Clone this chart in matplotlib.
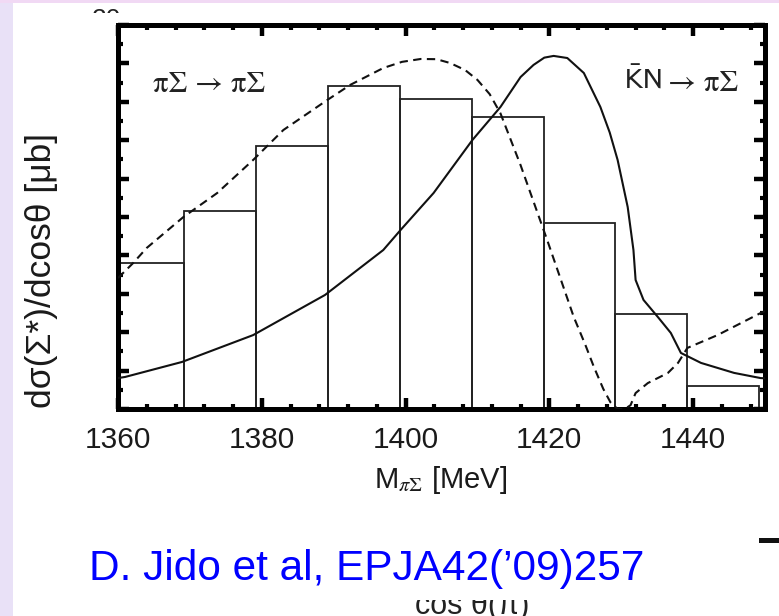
#!/usr/bin/env python3
"""
Sigma* mass spectrum: pi Sigma -> pi Sigma vs Kbar N -> pi Sigma
with the data histogram (slide screenshot recreation).
"""

import numpy as np
import matplotlib
matplotlib.use('Agg')
import matplotlib.pyplot as plt
from matplotlib.ticker import MultipleLocator
from matplotlib.patches import Rectangle
from matplotlib.transforms import Bbox

W, H = 779, 616

# histogram: bin edges [MeV] and heights [arb.]
bin_edges = [1359.2, 1369.2, 1379.2, 1389.2, 1399.2, 1409.2, 1419.2,
             1429.2, 1439.2, 1449.2]
bin_heights = [7.6, 10.3, 13.7, 16.8, 16.15, 15.2, 9.7, 4.95, 1.2]

# pi Sigma -> pi Sigma (dashed)
pisig_m = [1360.0, 1362.1, 1364.0, 1369.1, 1373.8, 1378.8, 1383.0, 1389.1,
           1392.3, 1396.9, 1399.5, 1402.1, 1404.3, 1406.2, 1408.3, 1410.0,
           1411.7, 1413.2, 1416.0, 1419.7, 1423.4, 1425.0, 1426.2, 1427.5,
           1428.5, 1429.5, 1430.5, 1431.3, 1432.0, 1433.7, 1436.5, 1437.9,
           1439.2, 1443.4, 1449.4, 1450.0]
pisig_y = [6.82, 7.60, 8.39, 10.0, 11.25, 12.97, 14.53, 16.09,
           16.88, 17.76, 18.08, 18.23, 18.22, 18.02, 17.65, 17.14,
           16.4, 15.4, 12.7, 8.8, 4.79, 3.35, 2.19, 1.05,
           0.35, 0.0, 0.0, 0.2, 0.83, 1.35, 1.88, 2.4,
           3.18, 3.85, 5.0, 5.1]

# Kbar N -> pi Sigma (solid)
kbarn_m = [1360.0, 1361.0, 1368.9, 1378.8, 1388.8, 1396.9, 1399.3, 1403.9,
           1409.3, 1413.2, 1416.0, 1417.8, 1419.3, 1420.6, 1422.5, 1424.8,
           1427.1, 1428.4, 1429.5, 1430.9, 1431.7, 1432.0, 1433.1, 1435.1,
           1436.9, 1438.3, 1441.1, 1445.7, 1449.4, 1450.0]
kbarn_y = [1.61, 1.67, 2.45, 3.85, 5.94, 8.28, 9.32, 11.25,
           14.01, 15.73, 17.29, 17.92, 18.3, 18.39, 18.28, 17.50,
           15.73, 14.4, 12.97, 10.52, 8.28, 6.72, 5.68, 4.79,
           3.96, 2.92, 2.40, 1.88, 1.61, 1.60]

x_ticks = [1360, 1380, 1400, 1420, 1440]


def px(x, y):
    """pixel (from top-left) -> figure fraction"""
    return x / W, 1 - y / H


plt.rcParams['mathtext.fontset'] = 'stix'

fig = plt.figure(figsize=(W / 100, H / 100), dpi=100, facecolor='white')

# slide background strips
fig.patches.append(Rectangle((0, 0), 13 / W, 1, transform=fig.transFigure,
                             facecolor='#e9e1f7', edgecolor='none', zorder=0))
fig.patches.append(Rectangle((0, 1 - 3 / H), 1, 3 / H, transform=fig.transFigure,
                             facecolor='#f1d9f4', edgecolor='none', zorder=0))

l, b = px(118, 409)
r, t = px(765, 25)
ax = fig.add_axes([l, b, r - l, t - b])

widths = np.diff(bin_edges)
ax.bar(bin_edges[:-1], bin_heights, width=widths, align='edge', fill=False,
       edgecolor='#222222', linewidth=1.3, zorder=2)
ax.plot(pisig_m, pisig_y, color='#111111', linewidth=1.5, linestyle=(0, (4, 2.6)),
        zorder=3)
ax.plot(kbarn_m, kbarn_y, color='#111111', linewidth=1.5, zorder=3)

ax.set_xlim(1360, 1450)
ax.set_ylim(0, 20)
ax.set_xticks(x_ticks)
ax.xaxis.set_minor_locator(MultipleLocator(4))
ax.yaxis.set_major_locator(MultipleLocator(2))
ax.yaxis.set_minor_locator(MultipleLocator(1))
ax.tick_params(which='both', direction='in', top=True, right=True, color='black')
ax.tick_params(which='major', length=8, width=3.2)
ax.tick_params(which='minor', length=3.5, width=3.0)
ax.tick_params(axis='y', labelleft=False)
ax.tick_params(axis='x', labelsize=21.5, pad=12, labelcolor='#1a1a1a')
for lab in ax.get_xticklabels():
    lab.set_family('Liberation Sans')
for sp in ax.spines.values():
    sp.set_linewidth(3.6)

ax.text(0.054, 0.844, 'πΣ → πΣ', transform=ax.transAxes, fontsize=22,
        family='STIXGeneral', va='center', ha='left', color='#222222')
arrow_txt = ax.text(0.958, 0.846, '→ πΣ', transform=ax.transAxes, fontsize=22,
                    family='STIXGeneral', va='center', ha='right', color='#222222')
renderer = fig.canvas.get_renderer()
x0 = arrow_txt.get_window_extent(renderer).x0
ax.text(x0 - 6, arrow_txt.get_window_extent(renderer).y0 + 3,
        r'$\bar{\mathrm{K}}\mathrm{N}$', transform=None, fontsize=21,
        math_fontfamily='stixsans', va='bottom', ha='right', color='#222222')

fig.text(*px(441, 488), r'M$_{\pi\Sigma}$ [MeV]', fontsize=21,
         family='Liberation Sans', ha='center', va='baseline', color='#1a1a1a')
fig.text(*px(42, 270), 'dσ(Σ*)/dcosθ [μb]', fontsize=25.5, rotation=90,
         family='Liberation Sans', ha='center', va='center', color='#1a1a1a')

fig.text(*px(89, 580), 'D. Jido et al, EPJA42(’09)257', fontsize=30.5,
         family='Liberation Sans', color='#0000ff', ha='left', va='baseline')

# clipped remnants of neighbouring slide content
t1 = fig.text(*px(106, 8), '20', fontsize=19, family='Liberation Sans',
              ha='center', va='top', color='#222222')
t1.set_clip_box(Bbox.from_extents(80, H - 13, 140, H))
t1.set_clip_on(True)
t2 = fig.text(*px(472, 614), 'cos θ(π)', fontsize=22, family='Liberation Sans',
              ha='center', va='baseline', color='#222222')
t2.set_clip_box(Bbox.from_extents(380, 0, 560, H - 600))
t2.set_clip_on(True)
fig.patches.append(Rectangle(px(759, 543), 20 / W, 5 / H, transform=fig.transFigure,
                             facecolor='#111111', edgecolor='none'))

fig.savefig('out.png', dpi=100)
